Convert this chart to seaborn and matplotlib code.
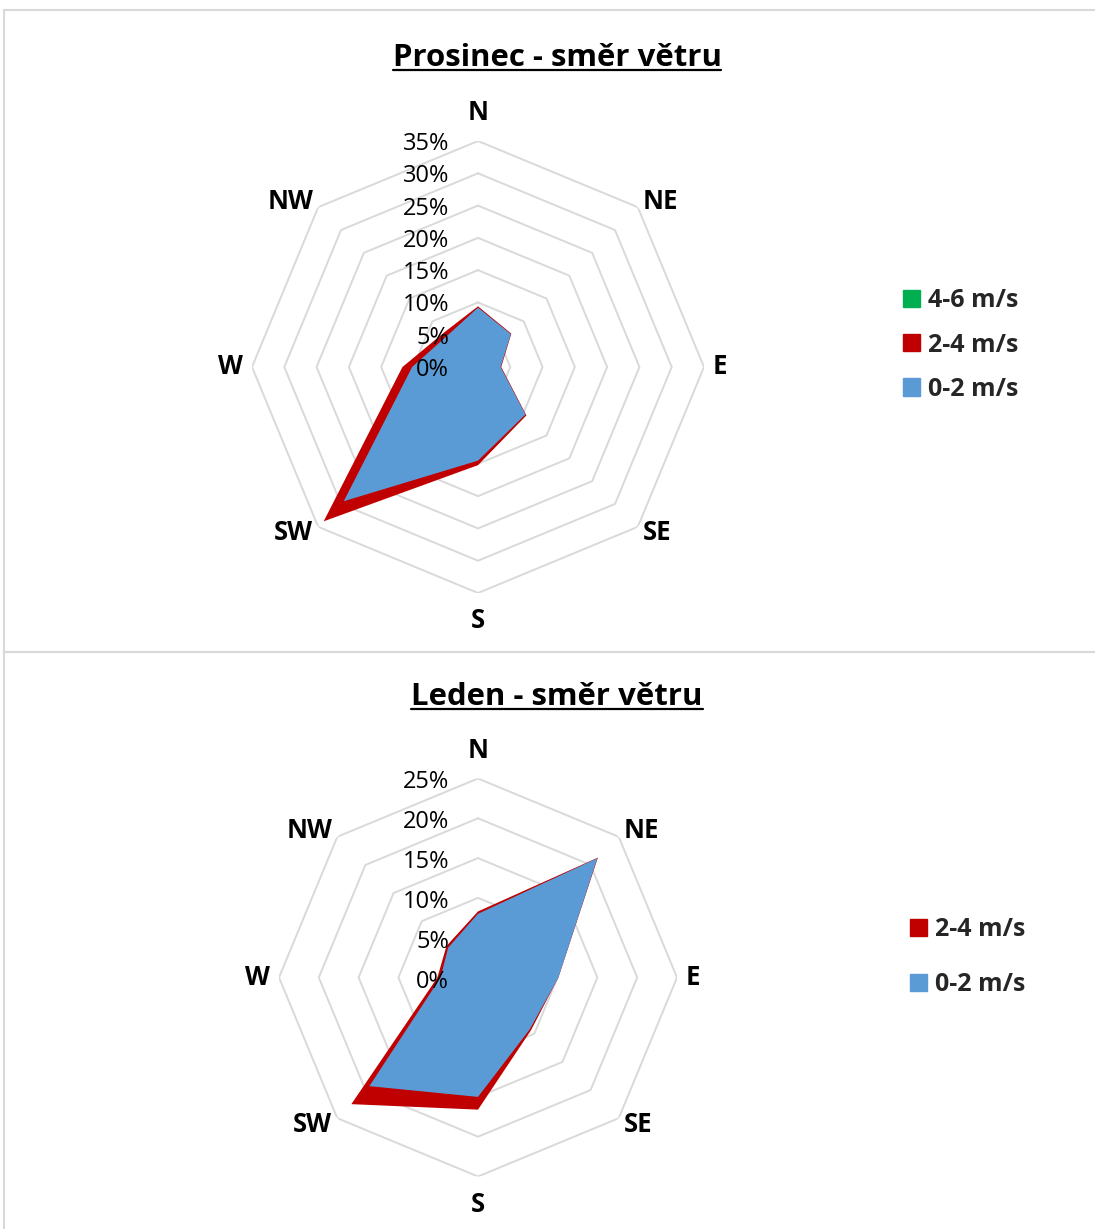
import numpy as np
import matplotlib
matplotlib.use("Agg")
import matplotlib.pyplot as plt
import seaborn as sns
from matplotlib.patches import Patch, Rectangle
from matplotlib.lines import Line2D

# wind directions (clockwise from north)
directions = ["N", "NE", "E", "SE", "S", "SW", "W", "NW"]

# Prosinec - plotted values in %
dec_0_2 = [9.2, 7.2, 3.5, 10.4, 14.5, 29.4, 10.2, 6.8]
dec_2_4 = [9.4, 7.3, 3.6, 10.6, 15.2, 33.8, 11.7, 7.5]
dec_4_6 = [0, 0, 0, 0, 0, 0, 0, 0]
dec_ticks = [0, 5, 10, 15, 20, 25, 30, 35]

# Leden - plotted values in %
jan_0_2 = [8.0, 21.2, 10.1, 9.2, 15.0, 19.3, 4.7, 5.3]
jan_2_4 = [8.3, 21.3, 10.1, 9.4, 16.6, 22.5, 5.1, 5.6]
jan_ticks = [0, 5, 10, 15, 20, 25]

GREEN = "#00B050"
RED = "#C00000"
BLUE = "#5B9BD5"
GRID = "#D9D9D9"

sns.set_theme(style="white")
plt.rcParams["font.family"] = ["Open Sans", "DejaVu Sans"]

W, H = 1095, 1229
fig = plt.figure(figsize=(W / 100, H / 100), dpi=100)


def radar(rect, series, ticks, lab_dy):
    ax = fig.add_axes(rect, projection="polar")
    ax.set_theta_zero_location("N")
    ax.set_theta_direction(-1)
    theta = np.linspace(0, 2 * np.pi, len(directions), endpoint=False)
    theta_c = np.append(theta, theta[0])

    # octagon rings
    for t in ticks[1:]:
        ax.plot(theta_c, [t] * len(theta_c), color=GRID, lw=1.4, zorder=1)

    for label, vals, color in series:
        v = np.append(vals, vals[0])
        ax.fill(theta_c, v, color=color, lw=0, zorder=2)

    ax.set_ylim(0, max(ticks))
    ax.set_xticks([])
    ax.set_yticks([])
    ax.grid(False)
    ax.spines["polar"].set_visible(False)
    ax.set_facecolor("none")

    # ring labels
    for t in ticks:
        ax.annotate(f"{t}%", xy=(0, t), xytext=(-29, lab_dy), textcoords="offset pixels",
                    ha="right", va="center", fontsize=17, color="black", zorder=5)

    # direction labels
    for th, name in zip(theta, directions):
        s, c = round(np.sin(th), 3), round(np.cos(th), 3)
        if abs(s) < 0.01:
            ox, oy, ha = 0, 28 * np.sign(c), "center"
        elif abs(c) < 0.01:
            ox, oy, ha = 9 * np.sign(s), 0, "left" if s > 0 else "right"
        else:
            ox, oy, ha = 5 * np.sign(s), 6 * np.sign(c), "left" if s > 0 else "right"
        ax.annotate(name, xy=(th, max(ticks)), xytext=(ox, oy), textcoords="offset pixels",
                    ha=ha, va="center", fontsize=18.5, fontweight="bold", color="black")
    return ax


def title(text, x_px, base_px):
    t = fig.text(x_px / W, 1 - base_px / H, text, ha="center", va="baseline",
                 fontsize=22.4, fontweight="bold", color="black")
    fig.canvas.draw()
    bb = t.get_window_extent()
    yl = 1 - (base_px + 4) / H
    fig.add_artist(Line2D([bb.x0 / W, bb.x1 / W], [yl, yl], transform=fig.transFigure,
                          color="black", lw=1.6))


# panel borders
fig.add_artist(Rectangle((4 / W, 1 - 652 / H), 1.1, (652 - 10) / H, transform=fig.transFigure,
                         fill=False, edgecolor=GRID, lw=1.5))
fig.add_artist(Rectangle((4 / W, -0.1), 1.1, 0.1 + 1 - 652 / H, transform=fig.transFigure,
                         fill=False, edgecolor=GRID, lw=1.5))

# Prosinec
cx, cy, R = 478, 367, 226
radar([(cx - R) / W, (H - cy - R) / H, 2 * R / W, 2 * R / H],
      [("4-6 m/s", dec_4_6, GREEN), ("2-4 m/s", dec_2_4, RED), ("0-2 m/s", dec_0_2, BLUE)],
      dec_ticks, -3)
title("Prosinec - směr větru", 557, 66)
fig.legend(handles=[Patch(color=GREEN), Patch(color=RED), Patch(color=BLUE)],
           labels=["4-6 m/s", "2-4 m/s", "0-2 m/s"],
           loc="center left", bbox_to_anchor=(903 / W, 1 - 345 / H), frameon=False,
           borderpad=0, borderaxespad=0, handlelength=0.68, handleheight=0.68,
           handletextpad=0.33, labelspacing=0.77,
           prop={"size": 18, "weight": "bold"})

# Leden
cx, cy, R = 478, 977.5, 199
radar([(cx - R) / W, (H - cy - R) / H, 2 * R / W, 2 * R / H],
      [("2-4 m/s", jan_2_4, RED), ("0-2 m/s", jan_0_2, BLUE)],
      jan_ticks, -4)
title("Leden - směr větru", 557, 705)
fig.legend(handles=[Patch(color=RED), Patch(color=BLUE)],
           labels=["2-4 m/s", "0-2 m/s"],
           loc="center left", bbox_to_anchor=(910 / W, 1 - 957 / H), frameon=False,
           borderpad=0, borderaxespad=0, handlelength=0.68, handleheight=0.68,
           handletextpad=0.33, labelspacing=1.2,
           prop={"size": 18, "weight": "bold"})

fig.savefig("out.png", dpi=100)
